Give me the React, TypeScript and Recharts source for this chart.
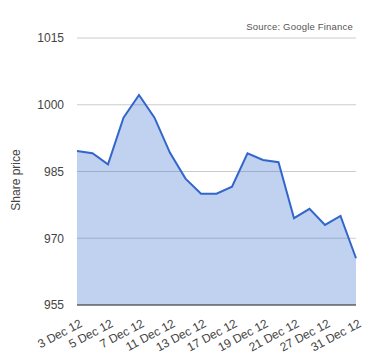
import React from 'react';
import { AreaChart, Area, XAxis, YAxis, CartesianGrid } from 'recharts';

const dates = [
  '3 Dec 12', '4 Dec 12', '5 Dec 12', '6 Dec 12', '7 Dec 12', '10 Dec 12', '11 Dec 12',
  '12 Dec 12', '13 Dec 12', '14 Dec 12', '17 Dec 12', '18 Dec 12', '19 Dec 12',
  '20 Dec 12', '21 Dec 12', '24 Dec 12', '27 Dec 12', '28 Dec 12', '31 Dec 12',
];
const prices = [
  989.6, 989.1, 986.6, 997.1, 1002.2, 997.1, 989.2, 983.4, 980.0, 980.0,
  981.6, 989.1, 987.6, 987.1, 974.5, 976.6, 973.0, 975.0, 965.5,
];
const yTicks = [955, 970, 985, 1000, 1015];

const font = 'Arial, "Liberation Sans", sans-serif';

const chartData = dates.map((d, i) => ({ date: d, price: prices[i] }));

// slanted date labels, end of text near the tick
const DateTick = (props: any) => {
  const { x, y, payload } = props;
  return (
    <g transform={`translate(${x + 6},${y + 21}) rotate(-28)`}>
      <text x={0} y={0} textAnchor="end" fontSize={12} fill="#444" fontFamily={font}>
        {payload.value}
      </text>
    </g>
  );
};

export default function App() {
  return (
    <div style={{ position: 'absolute', left: 0, top: 0, width: 380, height: 360, background: '#fff' }}>
      <AreaChart
        width={380}
        height={360}
        data={chartData}
        margin={{ top: 38, right: 24, left: 0, bottom: 0 }}
      >
        <CartesianGrid vertical={false} stroke="#cccccc" />
        <XAxis
          dataKey="date"
          interval={1}
          height={55}
          tickLine={false}
          tickSize={0}
          tickMargin={0}
          axisLine={{ stroke: '#333' }}
          tick={<DateTick />}
        />
        <YAxis
          domain={[955, 1015]}
          ticks={yTicks}
          width={77}
          axisLine={false}
          tickLine={false}
          tickSize={0}
          tickMargin={13}
          tick={{ fontSize: 12, fill: '#444', fontFamily: font }}
        />
        <Area
          type="linear"
          dataKey="price"
          stroke="#3366cc"
          strokeWidth={2}
          fill="#3366cc"
          fillOpacity={0.3}
          isAnimationActive={false}
        />
      </AreaChart>
      <div
        style={{
          position: 'absolute', left: 16, top: 180, transform: 'translate(-50%, -50%) rotate(-90deg)',
          fontFamily: font, fontSize: 12, color: '#444', whiteSpace: 'nowrap',
        }}
      >
        Share price
      </div>
      <div
        style={{
          position: 'absolute', right: 27, top: 21, fontFamily: font, fontSize: 9.5,
          color: '#555', whiteSpace: 'nowrap', letterSpacing: 0.2,
        }}
      >
        Source: Google Finance
      </div>
    </div>
  );
}
